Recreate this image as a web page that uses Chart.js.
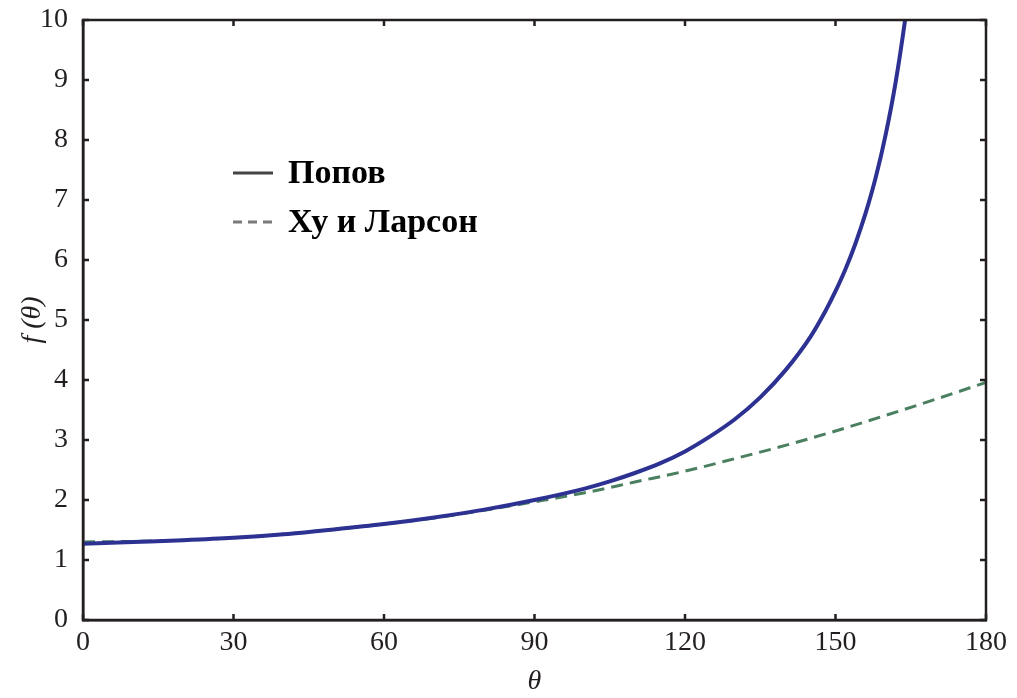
<!DOCTYPE html>
<html>
<head>
<meta charset="utf-8">
<script src="https://cdn.jsdelivr.net/npm/chart.js@4.4.0/dist/chart.umd.min.js"></script>
<style>
  html, body { margin: 0; padding: 0; background: #ffffff; }
  #wrap { width: 1017px; height: 698px; }
</style>
</head>
<body>
<div id="wrap"><canvas id="c" width="1017" height="698"></canvas></div>
<script>
// ---- data ----
const xTicks = [0, 30, 60, 90, 120, 150, 180];
const yTicks = [0, 1, 2, 3, 4, 5, 6, 7, 8, 9, 10];

const seriesNames = ["Попов", "Ху и Ларсон"];

const thetaPopov = [0, 10, 20, 30, 40, 50, 60, 70, 80, 90, 100, 105, 110, 115, 120, 125, 130, 135, 140, 145, 148, 150, 152, 154, 156, 158, 160, 162, 164, 165, 166];
const popov      = [1.27, 1.30, 1.33, 1.37, 1.43, 1.51, 1.60, 1.71, 1.84, 2.00, 2.19, 2.31, 2.45, 2.61, 2.81, 3.06, 3.35, 3.71, 4.16, 4.72, 5.15, 5.48, 5.85, 6.28, 6.78, 7.37, 8.09, 8.97, 10.08, 10.75, 11.52];

const thetaHL  = [0, 10, 20, 30, 40, 50, 60, 70, 80, 90, 100, 110, 120, 130, 140, 150, 160, 170, 180];
const huLarson = [1.30, 1.31, 1.33, 1.37, 1.43, 1.51, 1.60, 1.70, 1.83, 1.97, 2.12, 2.30, 2.48, 2.69, 2.91, 3.15, 3.41, 3.68, 3.96];

const toXY = (xs, ys) => xs.map((x, i) => ({ x: x, y: ys[i] }));

const FRAME = '#231f20';
const SERIF = '"Liberation Serif", "Times New Roman", serif';

// frame + inward ticks on all four sides
const framePlugin = {
  id: 'frame',
  afterDraw(chart) {
    const { ctx, chartArea: a, scales } = chart;
    ctx.save();
    ctx.strokeStyle = FRAME;
    ctx.lineWidth = 2.5;
    ctx.strokeRect(a.left, a.top, a.right - a.left, a.bottom - a.top);
    const len = 6;
    ctx.beginPath();
    scales.x.ticks.forEach(t => {
      const px = scales.x.getPixelForValue(t.value);
      ctx.moveTo(px, a.bottom); ctx.lineTo(px, a.bottom - len);
      ctx.moveTo(px, a.top); ctx.lineTo(px, a.top + len);
    });
    scales.y.ticks.forEach(t => {
      const py = scales.y.getPixelForValue(t.value);
      ctx.moveTo(a.left, py); ctx.lineTo(a.left + len, py);
      ctx.moveTo(a.right, py); ctx.lineTo(a.right - len, py);
    });
    ctx.stroke();
    ctx.restore();
  }
};

// legend inside the plot, with grey samples like the reference
const legendPlugin = {
  id: 'inLegend',
  afterDraw(chart) {
    const { ctx, chartArea: a } = chart;
    const x0 = a.left + 150, x1 = a.left + 190, tx = a.left + 205;
    const rows = [
      { y: a.top + 153, color: '#444444', dash: [] },
      { y: a.top + 202, color: '#7a7a7a', dash: [9, 6] }
    ];
    ctx.save();
    rows.forEach((r, i) => {
      ctx.strokeStyle = r.color;
      ctx.lineWidth = 3;
      ctx.setLineDash(r.dash);
      ctx.beginPath();
      ctx.moveTo(x0, r.y); ctx.lineTo(x1, r.y);
      ctx.stroke();
      ctx.setLineDash([]);
      ctx.fillStyle = '#000000';
      ctx.font = 'bold 34px ' + SERIF;
      ctx.textBaseline = 'middle';
      ctx.textAlign = 'left';
      ctx.fillText(seriesNames[i], tx, r.y + 1);
    });
    ctx.restore();
  }
};

new Chart(document.getElementById('c'), {
  type: 'line',
  data: {
    datasets: [
      {
        label: seriesNames[0],
        data: toXY(thetaPopov, popov),
        borderColor: '#2d3192',
        borderWidth: 4,
        pointRadius: 0,
        cubicInterpolationMode: 'monotone',
        fill: false,
        clip: 0
      },
      {
        label: seriesNames[1],
        data: toXY(thetaHL, huLarson),
        borderColor: '#4a8060',
        borderWidth: 3,
        borderDash: [12, 7],
        pointRadius: 0,
        cubicInterpolationMode: 'monotone',
        fill: false,
        clip: 0
      }
    ]
  },
  options: {
    responsive: false,
    animation: false,
    events: [],
    layout: { padding: { left: 0, right: 31, top: 20, bottom: 0 } },
    plugins: {
      legend: { display: false },
      tooltip: { enabled: false },
      title: { display: false }
    },
    scales: {
      x: {
        type: 'linear',
        min: 0, max: 180,
        afterBuildTicks: s => { s.ticks = xTicks.map(v => ({ value: v })); },
        afterFit: s => { s.height = 78; s.paddingLeft = 0; s.paddingRight = 0; },
        grid: { display: false, drawTicks: false },
        border: { display: true, color: FRAME, width: 2.5 },
        ticks: {
          color: '#231f20',
          padding: 6,
          maxRotation: 0,
          font: { family: SERIF, size: 28 }
        },
        title: {
          display: true,
          text: 'θ',
          color: '#231f20',
          padding: { top: 0, bottom: 0 },
          font: { family: SERIF, size: 28, style: 'italic' }
        }
      },
      y: {
        type: 'linear',
        min: 0, max: 10,
        afterBuildTicks: s => { s.ticks = yTicks.map(v => ({ value: v })); },
        afterFit: s => { s.width = 83; s.paddingTop = 0; s.paddingBottom = 0; },
        grid: { display: false, drawTicks: false },
        border: { display: true, color: FRAME, width: 2.5 },
        ticks: {
          color: '#231f20',
          padding: 15,
          font: { family: SERIF, size: 28 }
        },
        title: {
          display: true,
          text: 'f (θ)',
          color: '#231f20',
          padding: { top: 16, bottom: 0 },
          font: { family: SERIF, size: 28, style: 'italic' }
        }
      }
    }
  },
  plugins: [framePlugin, legendPlugin]
});
</script>
</body>
</html>
